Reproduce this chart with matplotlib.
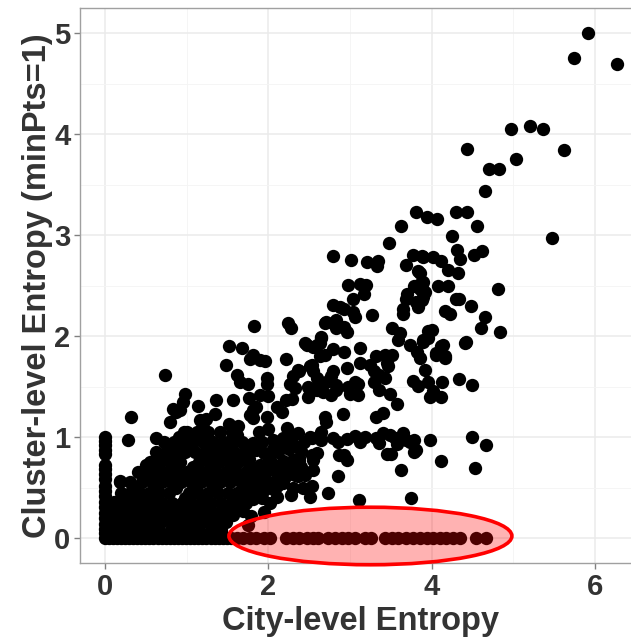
import matplotlib
matplotlib.use("Agg")
import matplotlib.pyplot as plt
from matplotlib.patches import Ellipse

# points sitting on y = 0 (cluster entropy zero)
zero_x = [0.00, 0.04, 0.09, 0.14, 0.19, 0.24, 0.29, 0.34, 0.39, 0.44, 0.49,
          0.54, 0.59, 0.64, 0.69, 0.74, 0.79, 0.84, 0.89, 0.94, 0.99, 1.04,
          1.09, 1.14, 1.19, 1.24, 1.29, 1.34, 1.39, 1.44, 1.49, 1.54,
          1.61, 1.69, 1.77, 1.85, 1.94, 2.02, 2.22, 2.30, 2.38, 2.47, 2.55,
          2.61, 2.73, 2.81, 2.90, 2.98, 3.06, 3.18, 3.26, 3.43, 3.51, 3.59,
          3.69, 3.77, 3.86, 3.94, 4.02, 4.10, 4.18, 4.26, 4.35, 4.55, 4.67]

# points sitting on x = 0 (city entropy zero)
axis_y = [1.00, 0.96, 0.92, 0.87, 0.83, 0.72, 0.68, 0.63, 0.58, 0.52, 0.47,
          0.42, 0.36, 0.31, 0.25, 0.20, 0.14, 0.09, 0.05]

# dense core, read row by row
core_levels = [0.08, 0.16, 0.25, 0.35, 0.45, 0.55, 0.65, 0.75, 0.85, 0.95, 1.05]
core_rows = [
    [0.06, 0.17, 0.27, 0.42, 0.55, 0.66, 0.80, 0.90, 1.03, 1.15, 1.30, 1.42],
    [0.03, 0.12, 0.22, 0.34, 0.45, 0.56, 0.68, 0.80, 0.92, 1.02, 1.14, 1.26, 1.38, 1.48],
    [0.04, 0.16, 0.28, 0.40, 0.52, 0.63, 0.75, 0.86, 0.98, 1.10, 1.22, 1.33, 1.45],
    [0.11, 0.22, 0.34, 0.46, 0.58, 0.70, 0.82, 0.94, 1.05, 1.17, 1.30, 1.42, 1.60, 1.72],
    [0.19, 0.30, 0.42, 0.54, 0.66, 0.78, 1.02, 1.14, 1.26, 1.38, 1.50, 1.62, 1.74],
    [0.18, 0.30, 0.45, 0.57, 0.69, 0.81, 0.93, 1.05, 1.17, 1.29, 1.41, 1.53, 1.66, 1.78],
    [0.40, 0.52, 0.64, 0.76, 0.88, 1.00, 1.12, 1.24, 1.36, 1.48, 1.60, 1.72],
    [0.55, 0.67, 0.79, 0.91, 1.15, 1.27, 1.39, 1.51, 1.63, 1.75],
    [0.62, 0.74, 0.86, 0.98, 1.10, 1.22, 1.34, 1.46, 1.58, 1.70],
    [0.72, 0.84, 0.96, 1.08, 1.20, 1.32, 1.44, 1.56, 1.68],
    [1.00, 1.12, 1.26, 1.40, 1.55],
]

# extra points filling the gaps of the core
fill_pts = [
    (0.36, 0.50), (0.48, 0.60), (0.60, 0.70), (0.72, 0.80), (0.84, 0.90),
    (0.96, 0.90), (0.60, 0.50), (0.72, 0.60), (0.84, 0.70), (0.96, 0.60),
    (1.08, 0.70), (1.20, 0.60), (1.32, 0.70), (1.44, 0.80), (1.56, 0.70),
    (1.68, 0.60), (1.20, 0.80), (1.32, 0.90), (1.10, 1.00), (1.22, 1.00),
    (0.78, 0.92), (0.90, 1.00), (1.50, 0.95), (1.62, 1.02), (1.72, 0.92),
    (1.76, 0.78), (1.78, 0.65), (1.70, 0.48), (1.58, 0.40), (0.50, 0.30),
    (0.62, 0.40), (0.74, 0.30), (0.86, 0.50), (0.98, 0.40), (1.10, 0.50),
    (1.22, 0.40), (1.34, 0.50), (1.46, 0.30), (0.38, 0.20), (0.62, 0.20),
    (0.86, 0.20), (1.10, 0.20), (1.34, 0.20), (1.92, 0.95), (2.05, 0.88),
    (2.15, 0.92), (2.28, 0.98), (2.40, 0.86), (1.95, 0.62), (2.10, 0.52),
    (2.25, 0.72), (2.32, 0.62), (2.45, 0.62), (2.42, 0.50), (1.92, 0.40),
    (2.02, 0.35), (1.70, 0.38),
]

# scattered points around the core (x = 0..2.6)
left_pts = [
    (0.11, 0.36), (0.18, 0.56), (0.20, 0.44), (0.24, 0.28), (0.32, 0.38),
    (0.40, 0.44), (0.50, 0.72), (0.28, 0.97), (0.32, 1.20), (0.62, 0.99),
    (0.73, 1.61), (0.79, 1.15), (0.83, 1.28), (0.87, 1.25), (0.91, 1.27),
    (0.95, 1.35), (0.97, 1.05), (0.98, 1.43), (1.14, 1.31), (1.16, 1.17),
    (1.18, 1.15), (1.20, 1.14), (1.24, 1.18), (1.34, 1.23), (1.36, 1.37),
    (1.48, 1.71), (1.51, 1.13), (1.52, 1.90), (1.56, 1.37), (1.61, 1.61),
    (1.63, 1.11), (1.65, 1.55), (1.67, 1.88), (1.75, 1.53), (1.76, 1.39),
    (1.77, 1.77), (1.77, 1.22), (1.81, 1.81), (1.81, 1.27), (1.81, 1.19),
    (1.82, 2.10), (1.85, 1.30), (1.90, 1.76), (1.90, 1.42), (1.96, 1.75),
    (1.98, 1.58), (1.98, 1.53), (1.98, 1.20), (2.00, 1.41), (2.11, 1.30),
    (2.16, 1.25), (2.21, 1.37), (2.22, 1.77), (2.24, 2.13), (2.28, 2.08),
    (2.29, 1.38), (2.27, 1.53), (2.33, 1.49), (2.30, 1.60), (2.36, 1.66),
    (2.23, 1.09), (2.36, 1.04), (2.49, 1.40), (2.49, 1.50), (2.59, 1.47),
    (2.51, 1.00),
]

mid_pts = [
    (1.57, 0.23), (1.69, 0.27), (1.75, 0.13), (1.94, 0.26), (1.54, 0.34),
    (1.79, 0.22), (1.81, 0.39), (2.10, 0.41), (2.28, 0.43), (2.51, 0.41),
    (2.73, 0.45), (1.81, 0.51), (1.94, 0.48), (2.06, 0.49), (2.18, 0.54),
    (2.53, 0.52), (1.85, 0.67), (1.98, 0.66), (2.12, 0.61), (2.22, 0.61),
    (2.36, 0.61), (2.55, 0.67), (2.02, 0.77), (2.18, 0.76), (2.30, 0.77),
    (2.38, 0.76), (2.55, 0.77), (1.81, 0.94), (1.85, 0.87), (1.94, 0.84),
    (2.06, 0.97), (2.18, 0.99), (2.30, 0.92), (2.43, 0.95), (2.53, 0.99),
    (2.53, 0.82), (2.59, 0.84), (1.88, 1.05), (2.00, 1.08), (2.12, 0.85),
    (2.25, 0.88), (1.90, 0.72), (2.05, 0.70), (2.20, 0.68), (1.88, 0.58),
    (2.00, 0.55), (2.30, 0.50), (1.85, 0.45), (2.40, 0.70), (2.38, 0.79),
    (2.85, 0.61), (2.87, 0.82), (2.96, 0.77), (2.92, 0.82), (3.11, 0.38),
    (3.75, 0.40), (3.63, 0.67), (4.12, 0.76), (4.53, 0.69), (4.49, 1.00),
    (4.67, 0.92), (3.45, 0.83), (3.50, 0.83), (3.79, 0.85),
]

# the band around y = 1
band_pts = [
    (2.65, 1.05), (2.65, 0.97), (2.79, 0.99), (2.85, 0.95), (2.96, 0.98),
    (3.06, 1.01), (3.12, 0.95), (3.18, 1.00), (3.32, 0.99), (3.36, 0.94),
    (3.41, 1.04), (3.49, 1.02), (3.55, 0.99), (3.58, 0.93), (3.65, 1.04),
    (3.69, 0.97), (3.73, 0.95), (3.79, 0.97), (3.81, 0.87), (3.98, 0.97),
    (2.69, 1.20), (2.71, 1.15), (2.91, 1.23), (3.32, 1.20), (3.40, 1.24),
    (3.57, 1.33),
]

# rising branch, y 1.4 .. 2.8
rise_pts = [
    (2.55, 1.48), (2.67, 1.45), (2.77, 1.42), (2.83, 1.47), (2.98, 1.50),
    (3.00, 1.43), (3.10, 1.42), (3.36, 1.47), (3.49, 1.43), (4.02, 1.46),
    (4.50, 1.52), (4.34, 1.57), (4.13, 1.55), (3.96, 1.55), (3.77, 1.56),
    (3.83, 1.51), (3.43, 1.58), (3.30, 1.55), (3.06, 1.55), (2.59, 1.58),
    (2.79, 1.65), (2.77, 1.60), (2.96, 1.68), (2.38, 1.65), (2.51, 1.70),
    (2.55, 1.65), (3.30, 1.65), (3.36, 1.61), (3.12, 1.73), (3.24, 1.71),
    (3.47, 1.70), (3.92, 1.66), (3.98, 1.40), (4.12, 1.40), (2.65, 1.50),
    (2.71, 1.55), (2.83, 1.52), (3.10, 1.53), (3.45, 1.73), (2.51, 1.45),
    (3.12, 1.88), (2.79, 1.87), (2.92, 1.84), (2.63, 1.80), (2.69, 1.81),
    (2.47, 1.91), (2.59, 1.91), (3.73, 1.91), (3.82, 1.84), (3.86, 1.78),
    (3.90, 1.94), (3.59, 1.96), (4.06, 1.83), (4.16, 1.78), (4.14, 1.91),
    (4.41, 1.93), (3.32, 1.80), (3.43, 1.81), (3.51, 1.81), (2.45, 1.93),
    (2.55, 1.89), (2.63, 1.93), (2.65, 1.98), (2.53, 1.71), (4.00, 2.06),
    (3.96, 1.98), (2.79, 2.79), (3.01, 2.75), (3.21, 2.73), (3.34, 2.74),
    (3.33, 2.69), (3.77, 2.80), (3.69, 2.70), (3.89, 2.78), (3.83, 2.64),
    (2.98, 2.51), (3.12, 2.52), (3.19, 2.51), (3.17, 2.42), (3.86, 2.52),
    (3.90, 2.44), (3.70, 2.42), (3.69, 2.37), (3.04, 2.37), (3.88, 2.36),
    (3.83, 2.29), (2.79, 2.31), (2.88, 2.29), (2.92, 2.27), (3.04, 2.24),
    (3.06, 2.19), (3.27, 2.21), (3.65, 2.27), (3.65, 2.22), (4.30, 2.37),
    (2.71, 2.14), (2.79, 2.13), (2.83, 2.08), (2.92, 2.09), (2.96, 2.04),
    (2.65, 1.99), (3.51, 2.08), (3.61, 2.03), (2.69, 2.13), (2.83, 2.16),
    (3.81, 2.34), (3.90, 2.39), (3.86, 2.47), (3.79, 2.50), (3.90, 2.54),
]

# top of the cloud
top_pts = [
    (5.92, 5.00), (5.75, 4.75), (6.27, 4.69), (4.97, 4.05), (5.21, 4.08),
    (5.37, 4.05), (4.44, 3.85), (5.62, 3.84), (5.03, 3.75), (4.70, 3.65),
    (4.83, 3.65), (4.65, 3.44), (3.81, 3.23), (3.94, 3.18), (4.07, 3.16),
    (4.30, 3.23), (4.43, 3.23), (3.63, 3.09), (4.56, 3.09), (4.25, 2.99),
    (3.48, 2.92), (5.48, 2.97), (4.31, 2.85), (4.62, 2.84), (3.88, 2.79),
    (4.02, 2.78), (4.11, 2.74), (4.35, 2.76), (4.52, 2.80), (4.20, 2.65),
    (4.32, 2.62), (3.86, 2.62), (3.88, 2.52), (4.08, 2.50), (4.20, 2.50),
    (3.92, 2.44), (4.81, 2.47), (4.34, 2.37), (4.48, 2.30), (4.16, 2.25),
    (4.23, 2.22), (4.65, 2.19), (4.61, 2.08), (4.84, 2.04), (3.96, 2.05),
    (3.90, 1.96), (4.42, 1.94), (4.12, 1.90), (4.06, 1.81), (4.16, 1.80),
]

# highlighted region (zero cluster entropy, high city entropy)
ellipse_center = (3.25, 0.02)
ellipse_width = 3.47
ellipse_height = 0.57

xs, ys = [], []
xs += zero_x
ys += [0.0] * len(zero_x)
xs += [0.0] * len(axis_y)
ys += axis_y
for level, row in zip(core_levels, core_rows):
    xs += row
    ys += [level] * len(row)
for group in (fill_pts, left_pts, mid_pts, band_pts, rise_pts, top_pts):
    xs += [p[0] for p in group]
    ys += [p[1] for p in group]

plt.rcParams["font.family"] = ["Liberation Sans", "DejaVu Sans"]

fig = plt.figure(figsize=(6.31, 6.40), dpi=100)
ax = fig.add_axes([0.1268, 0.1203, 0.8906, 0.867])

ax.scatter(xs, ys, s=92, color="black", linewidths=0, zorder=3)

ax.add_patch(Ellipse(ellipse_center, ellipse_width, ellipse_height,
                     facecolor=(1, 0, 0, 0.3), edgecolor="red",
                     linewidth=2.6, zorder=4, clip_on=False))

ax.set_xlim(-0.311, 6.58)
ax.set_ylim(-0.2475, 5.248)
ax.set_xticks([0, 2, 4, 6])
ax.set_yticks([0, 1, 2, 3, 4, 5])
ax.set_xticks([1, 3, 5], minor=True)
ax.set_yticks([0.5, 1.5, 2.5, 3.5, 4.5], minor=True)
ax.grid(True, which="major", color="#EBEBEB", linewidth=1.1, zorder=0)
ax.grid(True, which="minor", color="#F4F4F4", linewidth=0.6, zorder=0)
ax.set_axisbelow(True)
ax.tick_params(which="minor", length=0)
ax.tick_params(which="major", length=4, width=1, color="#808080",
               labelsize=21, labelcolor="#333333", pad=3)
for lab in ax.get_xticklabels() + ax.get_yticklabels():
    lab.set_fontweight("bold")

for side in ("left", "bottom", "top", "right"):
    ax.spines[side].set_color("#A0A0A0")
    ax.spines[side].set_linewidth(1.0)

ax.set_xlabel("City-level Entropy", fontsize=23.5, fontweight="bold",
              color="#333333", labelpad=4)
ax.set_ylabel("Cluster-level Entropy (minPts=1)", fontsize=23.5,
              fontweight="bold", color="#333333", labelpad=1)

fig.savefig("out.png", dpi=100)
